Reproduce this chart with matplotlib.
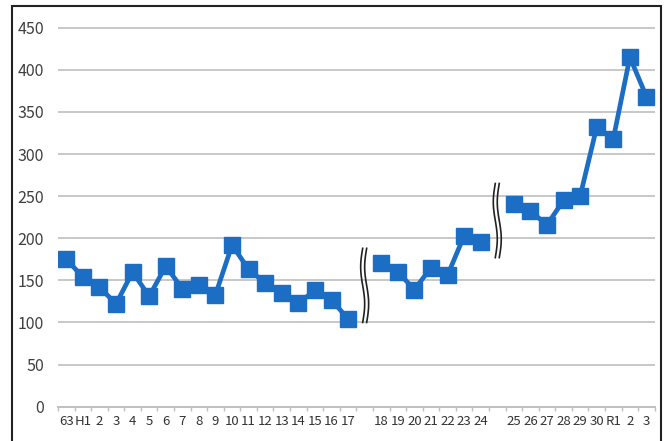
import numpy as np
import matplotlib.pyplot as plt
from matplotlib.patches import Rectangle

plt.rcParams['font.family'] = ['Noto Sans CJK JP', 'DejaVu Sans']

# three periods of the series, separated by breaks
seg1_labels = ["63", "H1", "2", "3", "4", "5", "6", "7", "8", "9",
               "10", "11", "12", "13", "14", "15", "16", "17"]
seg1_values = [175, 154, 142, 122, 160, 131, 167, 140, 144, 133,
               192, 163, 147, 135, 123, 138, 127, 104]
seg2_labels = ["18", "19", "20", "21", "22", "23", "24"]
seg2_values = [171, 160, 139, 165, 156, 203, 195]
seg3_labels = ["25", "26", "27", "28", "29", "30", "R1", "2", "3"]
seg3_values = [241, 232, 216, 245, 250, 332, 318, 415, 368]

y_ticks = [0, 50, 100, 150, 200, 250, 300, 350, 400, 450]

# build the category axis with one empty slot for each break
labels = seg1_labels + [""] + seg2_labels + [""] + seg3_labels
values = seg1_values + [np.nan] + seg2_values + [np.nan] + seg3_values
x = np.arange(len(labels))
gaps = [len(seg1_labels), len(seg1_labels) + 1 + len(seg2_labels)]

fig = plt.figure(figsize=(6.69, 4.41), dpi=100)
ax = fig.add_axes([0.0867, 0.0778, 0.892, 0.869])

blue = "#1c6dc4"
ax.plot(x, values, color=blue, linewidth=3.4, marker="s", markersize=11,
        markerfacecolor=blue, markeredgecolor=blue, zorder=3)

ax.set_xlim(-0.5, len(labels) - 0.5)
ax.set_ylim(0, 455)
ax.set_yticks(y_ticks)
ax.yaxis.grid(True, color="#c8c8c8", linewidth=1.4)
ax.set_axisbelow(True)
for s in ["left", "right", "top"]:
    ax.spines[s].set_visible(False)
ax.spines["bottom"].set_color("#c0c0c0")
ax.spines["bottom"].set_linewidth(1.4)
ax.tick_params(axis="y", length=0, labelsize=11.5, labelcolor="#404040", pad=10)

ax.set_xticks(x)
ax.set_xticklabels(labels)
ax.tick_params(axis="x", which="major", length=0, labelsize=9.5,
               labelcolor="#333333", pad=6)
ax.set_xticks(np.arange(len(labels) + 1) - 0.5, minor=True)
ax.tick_params(axis="x", which="minor", length=3, color="#c0c0c0", width=1)

# wavy break marks between the periods
t = np.linspace(0, 1, 60)
for g, (y0, y1) in zip(gaps, [(100, 188), (177, 265)]):
    for dx in (-0.12, 0.12):
        xs = g + dx + 0.12 * np.sin(t * 2 * np.pi)
        ys = y0 + (y1 - y0) * t
        ax.plot(xs, ys, color="#222222", linewidth=1.2, clip_on=False)

# outer frame of the picture
fig.patches.append(Rectangle((0.0175, -0.05), 0.971, 1.037, transform=fig.transFigure,
                             fill=False, edgecolor="#222222", linewidth=1.5))

fig.savefig("out.png", dpi=100)
